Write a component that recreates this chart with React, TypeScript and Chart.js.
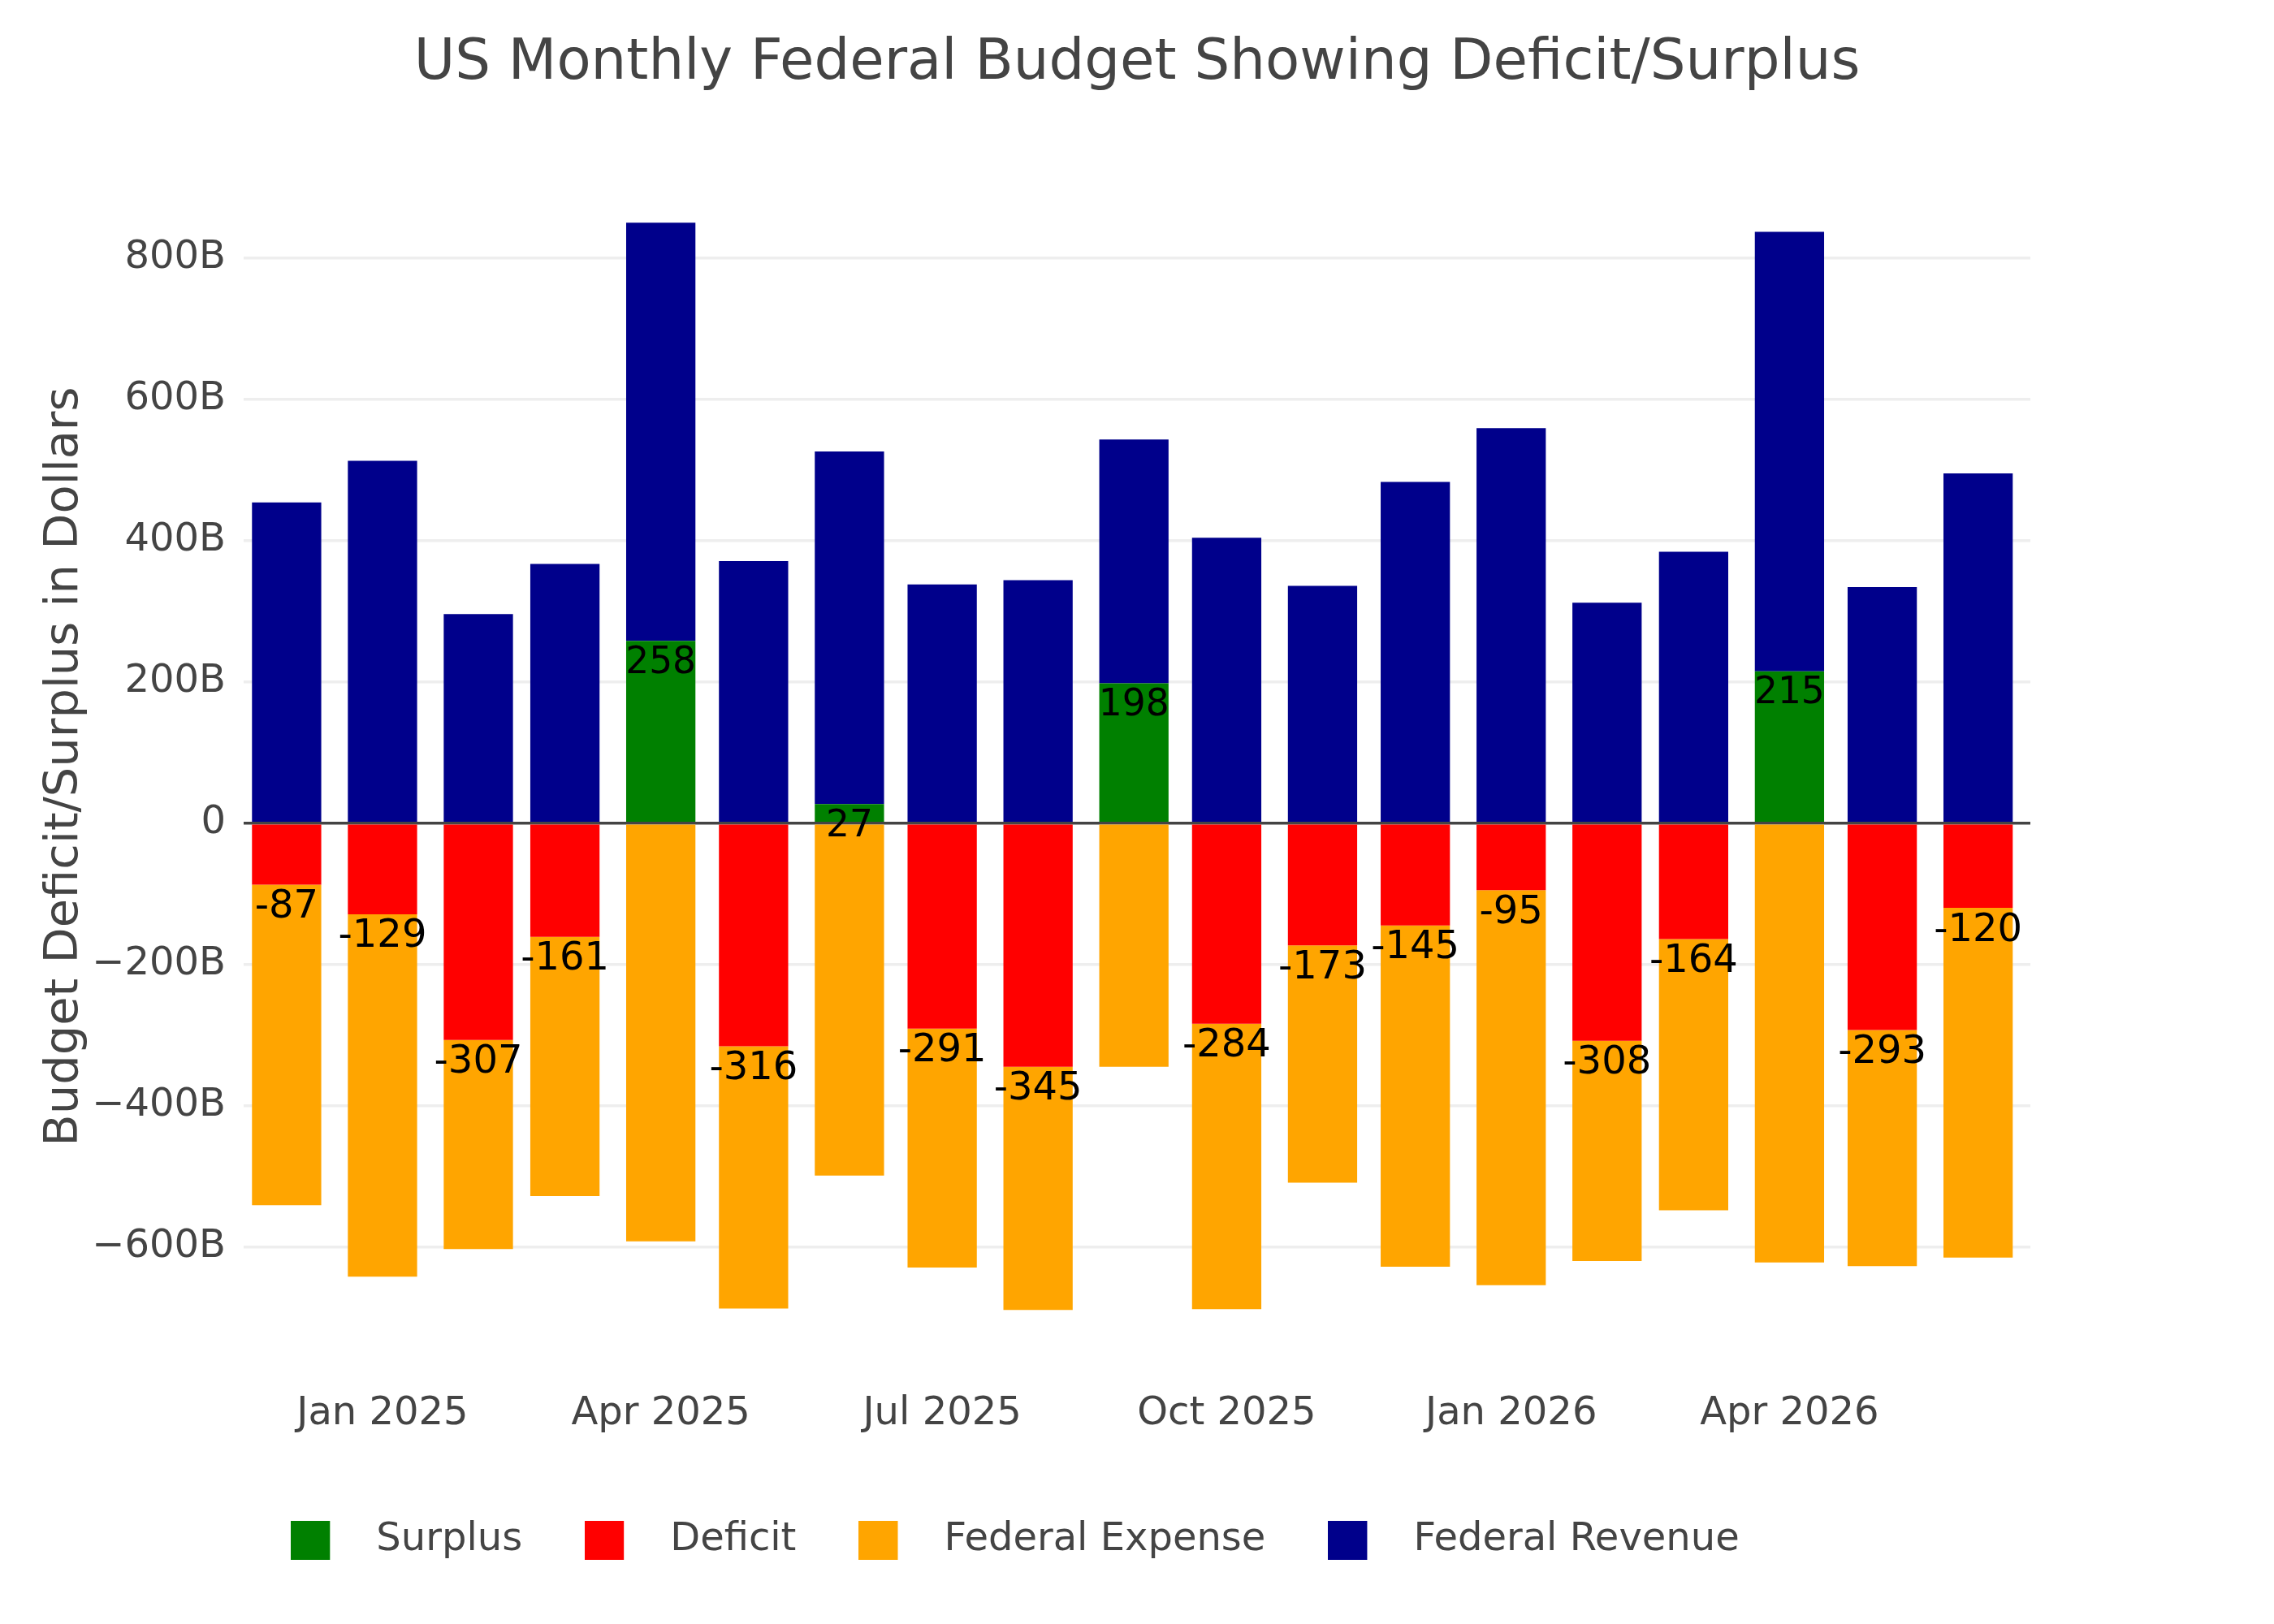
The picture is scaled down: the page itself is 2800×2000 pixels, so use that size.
import React, { useEffect, useRef } from "react";
import { Chart, registerables } from "chart.js";

Chart.register(...registerables);

// ---- Data (values in billions of dollars) ----
const months = [
  "2024-12-01", "2025-01-01", "2025-02-01", "2025-03-01", "2025-04-01", "2025-05-01",
  "2025-06-01", "2025-07-01", "2025-08-01", "2025-09-01", "2025-10-01", "2025-11-01",
  "2025-12-01", "2026-01-01", "2026-02-01", "2026-03-01", "2026-04-01", "2026-05-01",
  "2026-06-01",
];
const revenue = [454, 513, 296, 367, 850, 371, 526, 338, 344, 543, 404, 336, 483, 559, 312, 384, 837, 334, 495];
const balance = [-87, -129, -307, -161, 258, -316, 27, -291, -345, 198, -284, -173, -145, -95, -308, -164, 215, -293, -120];

const tickDates = ["2025-01-01", "2025-04-01", "2025-07-01", "2025-10-01", "2026-01-01", "2026-04-01"];
const tickLabels = ["Jan 2025", "Apr 2025", "Jul 2025", "Oct 2025", "Jan 2026", "Apr 2026"];

const seriesNames = ["Surplus", "Deficit", "Federal Expense", "Federal Revenue"];
const seriesColors = ["#008000", "#ff0000", "#ffa500", "#00008b"];

const FONT = "'DejaVu Sans', 'Verdana', sans-serif";
const TEXT = "#444444";

const dayNum = (s: string) => {
  const [y, m, d] = s.split("-").map(Number);
  return Date.UTC(y, m - 1, d) / 86400000;
};

// derived stack segments
const surplus = balance.map((b) => (b > 0 ? b : null));
const deficit = balance.map((b) => (b < 0 ? b : null));
const expenseSeg = balance.map((b, i) => -(revenue[i] - b) - Math.min(b, 0));
const revenueSeg = balance.map((b, i) => revenue[i] - Math.max(b, 0));
const segments = [surplus, deficit, expenseSeg, revenueSeg];

const barLabelPlugin = {
  id: "barLabels",
  afterDatasetsDraw(chart: any) {
    const ctx = chart.ctx;
    ctx.save();
    ctx.fillStyle = "#000000";
    ctx.textAlign = "center";
    ctx.textBaseline = "middle";
    [0, 1].forEach((di) => {
      const meta = chart.getDatasetMeta(di);
      ctx.font = `${di === 0 ? 45.5 : 48}px ${FONT}`;
      meta.data.forEach((bar: any, i: number) => {
        const v = segments[di][i];
        if (v === null || v === undefined) return;
        ctx.fillText(String(v), bar.x, bar.y + 28);
      });
    });
    ctx.restore();
  },
};

function legendSwatch(color: string) {
  const c = document.createElement("canvas");
  c.width = 81;
  c.height = 48;
  const g = c.getContext("2d")!;
  g.fillStyle = color;
  g.fillRect(0, 0, 48, 48);
  return c;
}

export default function App() {
  const ref = useRef<HTMLCanvasElement | null>(null);

  useEffect(() => {
    if (!ref.current) return;
    const swatches = seriesColors.map(legendSwatch);
    const chart = new Chart(ref.current, {
      type: "bar",
      data: {
        datasets: seriesNames.map((name, di) => ({
          label: name,
          data: months.map((m, i) => ({ x: dayNum(m), y: segments[di][i] })),
          backgroundColor: seriesColors[di],
          borderWidth: 0,
          categoryPercentage: 1,
          barPercentage: 0.8,
        })),
      },
      options: {
        responsive: false,
        animation: false,
        devicePixelRatio: 1,
        events: [],
        layout: { padding: { left: 0, right: 300, top: 0, bottom: 69 } },
        scales: {
          x: {
            type: "linear",
            stacked: true,
            offset: false,
            min: dayNum("2024-12-01") - 13.9,
            max: dayNum("2026-06-01") + 16.9,
            grid: { display: false, drawTicks: false, offset: false },
            border: { display: false },
            afterBuildTicks: (scale: any) => {
              scale.ticks = tickDates.map((d) => ({ value: dayNum(d) }));
            },
            afterFit: (scale: any) => {
              scale.height = 121.1;
            },
            ticks: {
              autoSkip: false,
              maxRotation: 0,
              padding: 38.3,
              color: TEXT,
              font: { family: FONT, size: 48 },
              callback: (_v: any, idx: number) => tickLabels[idx],
            },
          },
          y: {
            stacked: true,
            min: -760,
            max: 920,
            grid: {
              drawTicks: false,
              color: (c: any) => (c.tick && c.tick.value === 0 ? "#444444" : "#eeeeee"),
              lineWidth: 3.6,
            },
            border: { display: false },
            afterFit: (scale: any) => {
              scale.width = 300;
            },
            ticks: {
              stepSize: 200,
              includeBounds: false,
              padding: 22,
              color: TEXT,
              font: { family: FONT, size: 48 },
              callback: (v: any) => {
                const n = Number(v);
                if (n === 0) return "0";
                return (n < 0 ? "\u2212" + Math.abs(n) : String(n)) + "B";
              },
            },
            title: {
              display: true,
              text: "Budget Deficit/Surplus in Dollars",
              color: TEXT,
              font: { family: FONT, size: 57.5 },
              padding: { top: 45.3, bottom: 0 },
            },
          },
        },
        plugins: {
          tooltip: { enabled: false },
          title: {
            display: true,
            text: "US Monthly Federal Budget Showing Deficit/Surplus",
            color: TEXT,
            fullSize: false,
            font: { family: FONT, size: 69, weight: "normal" },
            padding: { top: 38, bottom: 92.5 },
          },
          legend: {
            position: "bottom",
            align: "center",
            labels: {
              usePointStyle: true,
              pointStyleWidth: 81,
              boxWidth: 48,
              boxHeight: 48,
              padding: 77,
              color: TEXT,
              font: { family: FONT, size: 48 },
              generateLabels: (ch: any) => {
                const items = Chart.defaults.plugins.legend.labels.generateLabels(ch);
                return items.map((it: any) => ({ ...it, pointStyle: swatches[it.datasetIndex] }));
              },
            },
          },
        },
      },
      plugins: [barLabelPlugin],
    } as any);
    return () => chart.destroy();
  }, []);

  return (
    <div style={{ position: "absolute", left: 0, top: 0, width: 2800, height: 2000, background: "#ffffff" }}>
      <canvas ref={ref} width={2800} height={2000} style={{ display: "block" }} />
    </div>
  );
}
